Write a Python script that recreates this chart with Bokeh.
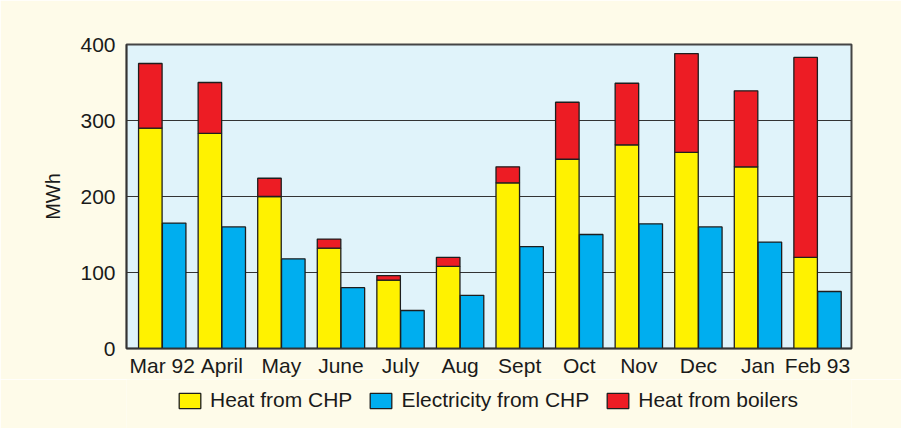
from bokeh.plotting import figure
from bokeh.layouts import column
from bokeh.models import Range1d, Legend, LegendItem, FixedTicker, ColumnDataSource
from bokeh.embed import file_html
from bokeh.resources import INLINE

months = ["Mar 92", "April", "May", "June", "July", "Aug", "Sept", "Oct", "Nov", "Dec", "Jan", "Feb 93"]
heat_chp = [290, 283, 200, 132, 90, 108, 218, 249, 268, 258, 239, 120]
heat_boilers = [85, 67, 24, 12, 6, 12, 21, 75, 81, 130, 100, 263]
electricity_chp = [165, 160, 118, 80, 50, 70, 134, 150, 164, 160, 140, 75]
series_labels = ["Heat from CHP", "Electricity from CHP", "Heat from boilers"]

YELLOW = "#FFF200"
BLUE = "#00AEEF"
RED = "#ED1C24"
CREAM = "#FEFBE9"
PLOT_BG = "#E0F3FA"
FONT = "Liberation Sans"
LC = "#1e1e1e"

idx = list(range(len(months)))
src = ColumnDataSource(dict(
    xh=[i - 0.2 for i in idx],
    xe=[i + 0.2 for i in idx],
    heat=heat_chp,
    heat_top=[h + b for h, b in zip(heat_chp, heat_boilers)],
    elec=electricity_chp,
))

p = figure(frame_width=725, frame_height=304, output_backend="svg", toolbar_location=None,
           x_range=Range1d(-0.6, 11.57), y_range=Range1d(0, 400),
           min_border_left=126, min_border_right=50, min_border_top=44, min_border_bottom=30)
p.border_fill_color = CREAM
p.background_fill_color = PLOT_BG
p.outline_line_color = "#444444"
p.outline_line_width = 2

bw = 0.395


def draw_bars(fig):
    rh = fig.vbar(x="xh", bottom=0, top="heat", width=bw, source=src,
                  fill_color=YELLOW, line_color=LC, line_width=1.3)
    re = fig.vbar(x="xe", bottom=0, top="elec", width=bw, source=src,
                  fill_color=BLUE, line_color=LC, line_width=1.3)
    rb = fig.vbar(x="xh", bottom="heat", top="heat_top", width=bw, source=src,
                  fill_color=RED, line_color=LC, line_width=1.3)
    return [rh, re, rb]


draw_bars(p)

p.xgrid.grid_line_color = None
p.ygrid.grid_line_color = "#333333"
p.ygrid.grid_line_width = 1
p.ygrid.ticker = FixedTicker(ticks=[100, 200, 300])

p.xaxis.ticker = FixedTicker(ticks=idx)
p.xaxis.major_label_overrides = {i: m for i, m in enumerate(months)}
p.yaxis.ticker = FixedTicker(ticks=[0, 100, 200, 300, 400])
for ax in (p.xaxis[0], p.yaxis[0]):
    ax.major_tick_line_color = None
    ax.minor_tick_line_color = None
    ax.major_tick_out = 0
    ax.major_tick_in = 0
    ax.minor_tick_out = 0
    ax.minor_tick_in = 0
    ax.axis_line_color = "#333333"
    ax.axis_line_width = 1.5
    ax.major_label_text_font = FONT
    ax.major_label_text_font_size = "21px"
    ax.major_label_text_color = "#1a1a1a"
p.xaxis.major_label_standoff = 5
p.yaxis.major_label_standoff = 11
p.yaxis.axis_label = "MWh"
p.yaxis.axis_label_text_font = FONT
p.yaxis.axis_label_text_font_size = "20px"
p.yaxis.axis_label_text_font_style = "normal"
p.yaxis.axis_label_text_color = "#1a1a1a"
p.yaxis.axis_label_standoff = 13

# legend strip below the chart (its bars lie outside its view, only the legend shows)
lg = figure(width=901, height=50, output_backend="svg", toolbar_location=None,
            x_range=Range1d(100, 101), y_range=Range1d(1000, 1001),
            min_border=0, x_axis_type=None, y_axis_type=None)
lg.border_fill_color = CREAM
lg.background_fill_color = CREAM
lg.outline_line_color = None
lg.xgrid.grid_line_color = None
lg.ygrid.grid_line_color = None
lr = draw_bars(lg)
legend = Legend(items=[LegendItem(label=l, renderers=[r]) for l, r in zip(series_labels, lr)],
                orientation="horizontal", location=(46, 13))
legend.label_text_font = FONT
legend.label_text_font_size = "21px"
legend.label_text_color = "#1a1a1a"
legend.glyph_width = 27
legend.glyph_height = 19
legend.label_standoff = 7
legend.spacing = 15
legend.padding = 4
legend.margin = 0
legend.border_line_alpha = 0
legend.background_fill_alpha = 0
lg.add_layout(legend)

layout = column(p, lg, spacing=0)
open("out.html", "w").write(file_html(layout, INLINE))
